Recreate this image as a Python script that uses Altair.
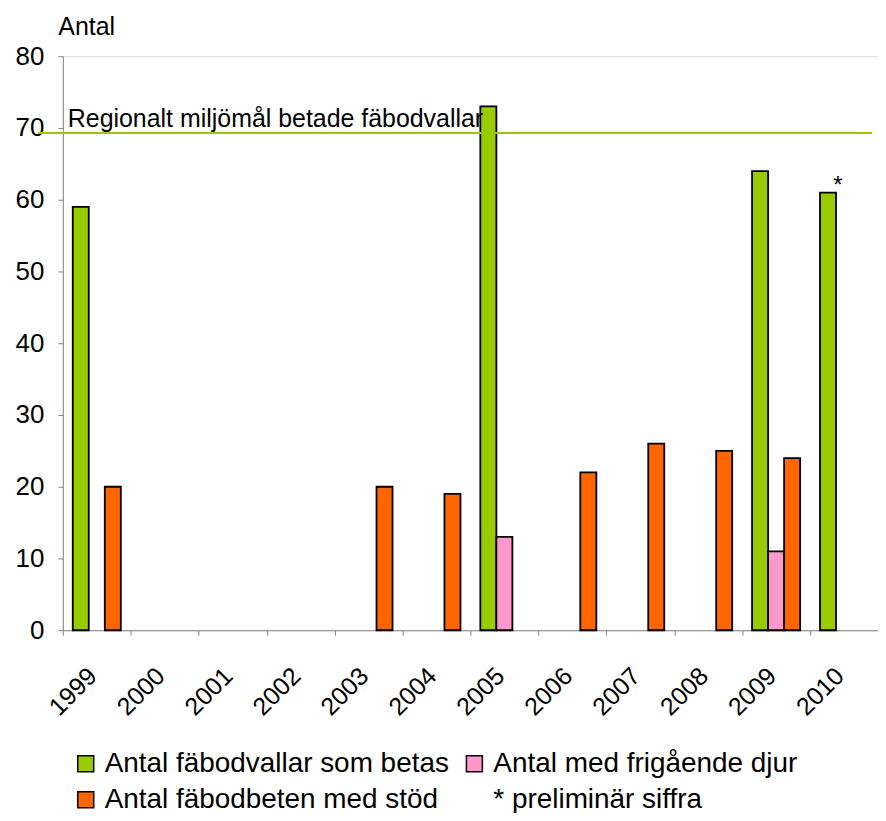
import altair as alt
import pandas as pd

# ---- data ----
years = ["1999", "2000", "2001", "2002", "2003", "2004",
         "2005", "2006", "2007", "2008", "2009", "2010"]
series_names = ["Antal fäbodvallar som betas",
                "Antal med frigående djur",
                "Antal fäbodbeten med stöd"]
note_label = "* preliminär siffra"
betas = [59, None, None, None, None, None, 73, None, None, None, 64, 61]
frigaende = [None, None, None, None, None, None, 13, None, None, None, 11, None]
stod = [20, None, None, None, 20, 19, None, 22, 26, 25, 24, None]
target_value = 69.3
target_label = "Regionalt miljömål betade fäbodvallar"
preliminary_year = "2010"
colors = {"Antal fäbodvallar som betas": "#99CC00",
          "Antal med frigående djur": "#FF99CC",
          "Antal fäbodbeten med stöd": "#FF6600",
          note_label: "transparent"}

rows = []
for name, vals in zip(series_names, [betas, frigaende, stod]):
    for yr, v in zip(years, vals):
        if v is not None:
            rows.append({"year": yr, "serie": name, "value": v})
df = pd.DataFrame(rows)

# legend is laid out column by column: order so rows read green/pink, orange/note
legend_domain = [series_names[0], series_names[2], series_names[1], note_label]
GRAY = "#868686"
FONT = "Liberation Sans"

x_enc = alt.X(
    "year:N",
    scale=alt.Scale(domain=years, paddingInner=0, paddingOuter=0),
    axis=alt.Axis(
        title=None, labelAngle=-45, labelAlign="right", labelBaseline="top",
        labelFontSize=25, labelColor="black", labelOffset=-13, labelPadding=28,
        tickBand="extent", tickSize=5, tickColor=GRAY, domainColor=GRAY,
        grid=False,
    ),
)
xoff_enc = alt.XOffset(
    "serie:N",
    scale=alt.Scale(domain=series_names, paddingOuter=0.62, paddingInner=0),
)
y_enc = alt.Y(
    "value:Q",
    scale=alt.Scale(domain=[0, 80], nice=False),
    axis=alt.Axis(
        values=list(range(0, 81, 10)), labelFontSize=26, labelColor="black",
        labelPadding=14, tickSize=5, tickColor=GRAY, domainColor=GRAY,
        grid=False, title="Antal", titleAngle=0, titleAlign="left",
        titleX=-5, titleY=-22, titleBaseline="alphabetic", titleFontSize=25,
        titleFontWeight="normal", titleColor="black",
    ),
)

legend = alt.Legend(
    orient="none", legendX=9, legendY=696, columns=2, title=None,
    symbolType="square", symbolSize=256, symbolStrokeWidth=1.5,
    labelFontSize=28, labelLimit=0, labelOffset=5, columnPadding=11,
    rowPadding=8, padding=0, labelColor="black",
)

bars = alt.Chart(df).mark_bar(strokeWidth=1.8).encode(
    x=x_enc,
    xOffset=xoff_enc,
    y=y_enc,
    fill=alt.Fill("serie:N",
                  scale=alt.Scale(domain=legend_domain,
                                  range=[colors[d] for d in legend_domain]),
                  legend=legend),
    stroke=alt.Stroke("serie:N",
                      scale=alt.Scale(domain=legend_domain,
                                      range=["black", "black", "black", "transparent"]),
                      legend=legend),
)

target_df = pd.DataFrame({"v": [target_value], "label": [target_label]})
rule = alt.Chart(target_df).mark_rule(color="#99CC00", strokeWidth=2).encode(
    y=alt.Y("v:Q"), x=alt.value(-25), x2=alt.value(812)
)
target_text = alt.Chart(target_df).mark_text(
    align="left", baseline="alphabetic", dy=-6, fontSize=25, color="black"
).encode(y=alt.Y("v:Q"), x=alt.value(5), text="label:N")

star_df = df[(df["year"] == preliminary_year) & (df["serie"] == series_names[0])].assign(mark="*")
star = alt.Chart(star_df).mark_text(
    fontSize=24, dx=10, dy=0, baseline="alphabetic", color="black"
).encode(x=alt.X("year:N"), xOffset=alt.XOffset("serie:N"), y=alt.Y("value:Q"), text="mark:N")

chart = alt.layer(bars, rule, target_text, star).properties(
    width=818, height=576,
    autosize=alt.AutoSizeParams(type="none"),
    padding={"left": 55, "top": 47, "right": 0, "bottom": 182},
).configure_view(stroke=None).configure(font=FONT)

chart.save("out.html", embed_options={"renderer": "svg", "actions": False})
